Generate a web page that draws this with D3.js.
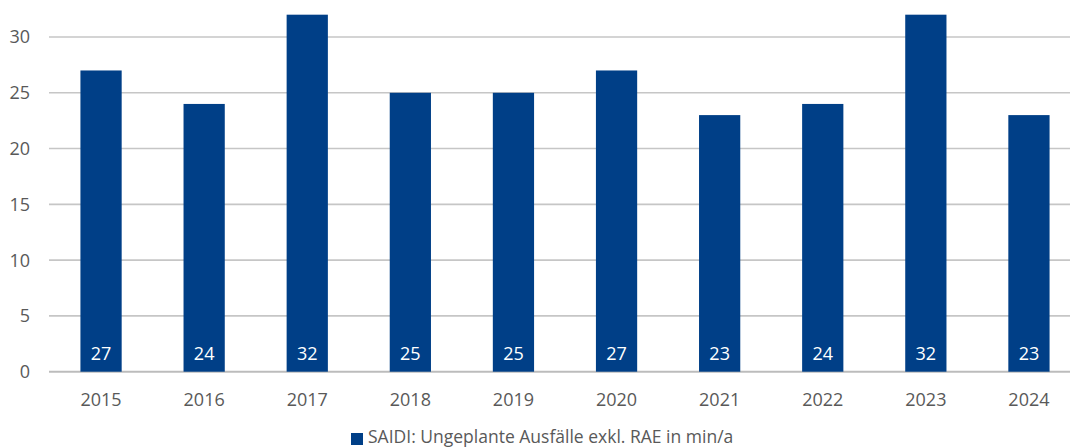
<!DOCTYPE html>
<html><head><meta charset="utf-8">
<script src="https://cdn.jsdelivr.net/npm/d3@7"></script>
<style>html,body{margin:0;padding:0;background:#fff;overflow:hidden}</style>
</head><body>
<svg id="c" width="1070" height="448"></svg>
<script>
const categories = ["2015","2016","2017","2018","2019","2020","2021","2022","2023","2024"];
const values = [27,24,32,25,25,27,23,24,32,23];
const yTicks = [0,5,10,15,20,25,30];
const seriesName = "SAIDI: Ungeplante Ausfälle exkl. RAE in min/a";

const svg = d3.select("#c");
const font = "'Open Sans', sans-serif";
const barColor = "#003f87";
const textColor = "#595959";

const x = d3.scaleBand().domain(categories).range([49.5, 1080.5]).paddingInner(0.6).paddingOuter(0.3);
const y = d3.scaleLinear().domain([0,30]).range([371.7, 37]);

// gridlines
svg.append("g").selectAll("line").data(yTicks).join("line")
  .attr("x1", 49).attr("x2", 1070)
  .attr("y1", d => y(d)).attr("y2", d => y(d))
  .attr("stroke", d => d === 0 ? "#bcbcbc" : "#c6c6c6").attr("stroke-width", d => d===0 ? 2 : 1.6);

// y tick labels
svg.append("g").selectAll("text").data(yTicks).join("text")
  .attr("x", 30).attr("y", d => y(d)).attr("dy", "0.36em")
  .attr("text-anchor", "end").attr("font-family", font).attr("font-size", 18)
  .attr("fill", textColor).text(d => d);

// bars
svg.append("g").selectAll("rect").data(values).join("rect")
  .attr("x", (d,i) => x(categories[i])).attr("width", x.bandwidth())
  .attr("y", d => y(d)).attr("height", d => y(0) - y(d))
  .attr("fill", barColor);

// data labels
svg.append("g").selectAll("text").data(values).join("text")
  .attr("x", (d,i) => x(categories[i]) + x.bandwidth()/2).attr("y", 359.5)
  .attr("text-anchor", "middle").attr("font-family", font).attr("font-size", 18)
  .attr("fill", "#ffffff").text(d => d);

// x labels
svg.append("g").selectAll("text").data(categories).join("text")
  .attr("x", d => x(d) + x.bandwidth()/2).attr("y", 405.5)
  .attr("text-anchor", "middle").attr("font-family", font).attr("font-size", 18)
  .attr("fill", textColor).text(d => d);

// legend
const lg = svg.append("g");
lg.append("rect").attr("x", 351).attr("y", 433).attr("width", 12).attr("height", 12).attr("fill", barColor);
lg.append("text").attr("x", 368).attr("y", 443).attr("font-family", font).attr("font-size", 17.5)
  .attr("fill", textColor).text(seriesName);
</script>
</body></html>
